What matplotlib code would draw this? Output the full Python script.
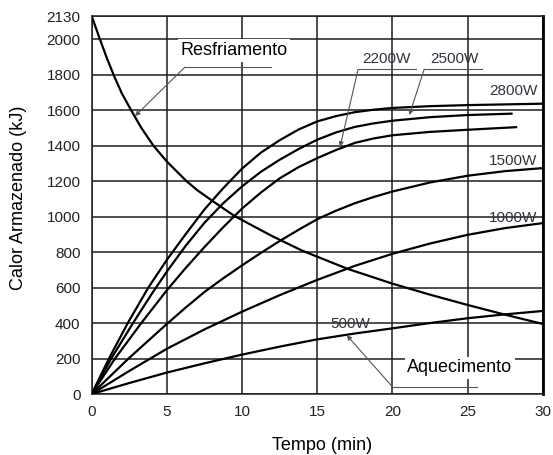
import matplotlib
matplotlib.use("Agg")
import matplotlib.pyplot as plt

plt.rcParams["font.family"] = ["Liberation Sans", "DejaVu Sans"]

# cooling curve (Resfriamento)
t_cool = [0, 0.5, 1, 1.5, 2, 2.65, 3.3, 4.1, 5, 6.3, 7, 8, 9.5, 11, 12, 14, 17, 20,
          22.5, 25, 27.5, 30]
v_cool = [2130, 2010, 1895, 1790, 1695, 1595, 1500, 1400, 1310, 1200, 1150, 1090,
          1003, 935, 890, 808, 706, 622, 560, 502, 447, 395]

# heating curves (Aquecimento)
t_2800 = [0, 1.15, 2.4, 3.77, 5, 6.2, 7.5, 8.75, 10, 11.25, 12.5, 13.75, 15, 16.25,
          17.5, 18.75, 20, 22.5, 25, 30]
v_2800 = [0, 200, 400, 600, 756, 895, 1040, 1160, 1270, 1360, 1430, 1490, 1536, 1566,
          1588, 1602, 1612, 1622, 1628, 1636]

t_2500 = [0, 1.3, 2.75, 4, 5, 6.25, 7.5, 8.75, 10, 11.25, 12.5, 13.75, 15, 16.25,
          17.5, 18.75, 20, 22.5, 25, 28]
v_2500 = [0, 200, 400, 565, 690, 835, 965, 1075, 1170, 1252, 1320, 1380, 1433, 1474,
          1505, 1525, 1540, 1560, 1572, 1580]

t_2200 = [0, 1.55, 3.3, 5, 6.25, 7.5, 8.75, 10, 11.25, 12.5, 13.75, 15, 16.25, 17.5,
          18.75, 20, 22.5, 25, 28.3]
v_2200 = [0, 200, 400, 585, 710, 828, 940, 1045, 1135, 1215, 1278, 1329, 1375, 1415,
          1440, 1458, 1477, 1489, 1504]

t_1500 = [0, 2.45, 5, 6.25, 7.5, 8.75, 10, 11.25, 12.5, 13.75, 15, 16.25, 17.5, 18.75,
          20, 22.5, 25, 27.5, 30]
v_1500 = [0, 200, 395, 487, 575, 652, 725, 795, 862, 925, 985, 1033, 1075, 1110,
          1141, 1192, 1230, 1256, 1273]

t_1000 = [0, 2.5, 5, 7.5, 10, 12.5, 15, 17.5, 20, 22.5, 25, 27.5, 30]
v_1000 = [0, 130, 255, 364, 464, 557, 643, 722, 790, 848, 897, 935, 963]

t_500 = [0, 2.5, 5, 7.5, 10, 12.5, 15, 17.5, 20, 22.5, 25, 27.5, 30]
v_500 = [0, 62, 121, 173, 222, 267, 308, 341, 370, 400, 427, 449, 468]

x_ticks = [0, 5, 10, 15, 20, 25, 30]
y_ticks = [0, 200, 400, 600, 800, 1000, 1200, 1400, 1600, 1800, 2000, 2130]

fig = plt.figure(figsize=(5.53, 4.55), dpi=100)
ax = fig.add_axes([0.1658, 0.134, 0.8156, 0.8308])

grid_kw = dict(color="#1e1e1e", linewidth=1.1, zorder=1)
for x in x_ticks:
    ax.axvline(x, **grid_kw)
for y in y_ticks:
    ax.axhline(y, **grid_kw)

curve_kw = dict(color="black", linewidth=1.6, zorder=3, solid_capstyle="butt",
                solid_joinstyle="round")
ax.plot(t_cool, v_cool, **curve_kw)
ax.plot(t_2800, v_2800, **curve_kw)
ax.plot(t_2500, v_2500, **curve_kw)
ax.plot(t_2200, v_2200, **curve_kw)
ax.plot(t_1500, v_1500, **curve_kw)
ax.plot(t_1000, v_1000, **curve_kw)
ax.plot(t_500, v_500, **curve_kw)

ax.set_xlim(0, 30)
ax.set_ylim(0, 2130)
ax.set_xticks(x_ticks)
ax.set_yticks(y_ticks)
ax.tick_params(length=0, pad=8, labelsize=11, labelcolor="#222222")

for side in ["left", "bottom", "top"]:
    ax.spines[side].set_linewidth(1.1)
    ax.spines[side].set_color("#1e1e1e")
ax.spines["right"].set_linewidth(2.0)
ax.spines["right"].set_color("black")

ax.set_ylabel("Calor Armazenado (kJ)", fontsize=13, va="center")
ax.yaxis.set_label_coords(-0.163, 0.52)
ax.set_xlabel("Tempo (min)", fontsize=13, va="center")
ax.xaxis.set_label_coords(0.51, -0.135)

lead = "#555555"
arrow_kw = dict(arrowstyle="-|>", color=lead, lw=0.8, mutation_scale=7,
                shrinkA=0, shrinkB=0)

# Resfriamento
ax.text(5.9, 1935, "Resfriamento", fontsize=13, ha="left", va="center", zorder=4,
        bbox=dict(fc="white", ec="none", pad=2))
ax.plot([6.2, 11.9], [1842, 1842], color=lead, lw=0.8, zorder=5)
ax.annotate("", xy=(2.88, 1566), xytext=(6.2, 1842), arrowprops=arrow_kw, zorder=5)

# Aquecimento
ax.text(21.0, 148, "Aquecimento", fontsize=13, ha="left", va="center", zorder=4,
        bbox=dict(fc="white", ec="none", pad=2))
ax.plot([20.0, 25.6], [41, 41], color=lead, lw=0.8, zorder=5)
ax.annotate("", xy=(16.96, 332), xytext=(20.0, 41), arrowprops=arrow_kw, zorder=5)

# power labels
lab_kw = dict(fontsize=11, color="#333340", zorder=4)
ax.text(19.63, 1887, "2200W", ha="center", va="center", **lab_kw)
ax.text(24.1, 1887, "2500W", ha="center", va="center", **lab_kw)
ax.plot([17.72, 21.6], [1829, 1829], color=lead, lw=0.8, zorder=5)
ax.plot([22.11, 25.95], [1829, 1829], color=lead, lw=0.8, zorder=5)
ax.annotate("", xy=(16.52, 1393), xytext=(17.72, 1829), arrowprops=arrow_kw, zorder=5)
ax.annotate("", xy=(21.13, 1572), xytext=(22.11, 1829), arrowprops=arrow_kw, zorder=5)

ax.text(29.65, 1707, "2800W", ha="right", va="center", **lab_kw)
ax.text(29.65, 1313, "1500W", ha="right", va="center", **lab_kw)
ax.text(29.65, 992, "1000W", ha="right", va="center", **lab_kw)
ax.text(17.23, 394, "500W", ha="center", va="center", **lab_kw)

fig.savefig("out.png", dpi=100, facecolor="white")
